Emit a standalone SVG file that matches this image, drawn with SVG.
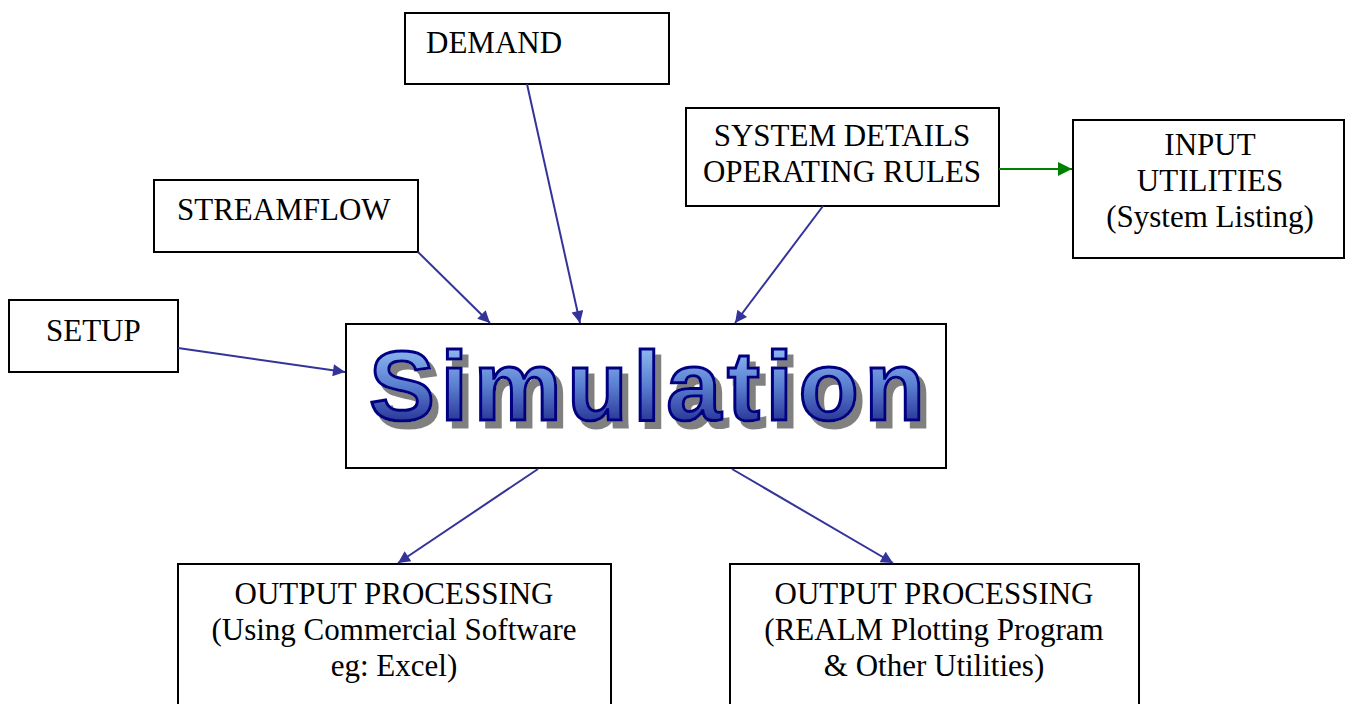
<svg xmlns="http://www.w3.org/2000/svg" width="1349" height="704" viewBox="0 0 1349 704">
<defs>
<style>
.box{fill:#fff;stroke:#000;stroke-width:2}
.t{font-family:"Liberation Serif","Times New Roman",serif;font-size:31px;fill:#000}
.c{text-anchor:middle}
.blue{stroke:#333399;stroke-width:2;fill:none;marker-end:url(#ab)}
.green{stroke:#008000;stroke-width:2;fill:none;marker-end:url(#ag)}
.sim{font-family:"Liberation Sans",Arial,sans-serif;font-weight:bold;font-size:99px;fill:url(#sg);stroke:#000080;stroke-width:3;filter:url(#sh)}
</style>
<marker id="ab" viewBox="0 0 10 10" refX="10" refY="5" markerWidth="16" markerHeight="12" markerUnits="userSpaceOnUse" orient="auto"><path d="M0,0 L10,5 L0,10 z" fill="#333399"/></marker>
<marker id="ag" viewBox="0 0 10 10" refX="10" refY="5" markerWidth="14" markerHeight="14" markerUnits="userSpaceOnUse" orient="auto"><path d="M0,0 L10,5 L0,10 z" fill="#008000"/></marker>
<linearGradient id="sg" x1="0" y1="0" x2="0" y2="1">
<stop offset="0" stop-color="#a6d4ff"/>
<stop offset="0.5" stop-color="#5a7fd0"/>
<stop offset="1" stop-color="#10107a"/>
</linearGradient>
<filter id="sh" x="-5%" y="-20%" width="115%" height="150%">
<feOffset in="SourceAlpha" dx="6" dy="7" result="o"/>
<feFlood flood-color="#808080"/>
<feComposite in2="o" operator="in" result="s"/>
<feMerge><feMergeNode in="s"/><feMergeNode in="SourceGraphic"/></feMerge>
</filter>
</defs>
<g id="setup"><rect class="box" x="9" y="300" width="169" height="72"/><text class="t" x="46" y="341">SETUP</text></g>
<g id="streamflow"><rect class="box" x="154" y="180" width="264" height="72"/><text class="t" x="177" y="220">STREAMFLOW</text></g>
<g id="demand"><rect class="box" x="405" y="13" width="264" height="71"/><text class="t" x="426" y="53">DEMAND</text></g>
<g id="system"><rect class="box" x="686" y="108" width="313" height="98"/><text class="t c" x="842" y="146">SYSTEM DETAILS</text><text class="t c" x="842" y="182">OPERATING RULES</text></g>
<g id="input"><rect class="box" x="1073" y="120" width="271" height="138"/><text class="t c" x="1210" y="155">INPUT</text><text class="t c" x="1210" y="191">UTILITIES</text><text class="t c" x="1210" y="227">(System Listing)</text></g>
<g id="simulation"><rect class="box" x="346" y="324" width="600" height="144"/>
<text class="sim" x="369" y="420" textLength="556" lengthAdjust="spacing">Simulation</text>
</g>
<g id="out1"><rect class="box" x="178" y="564" width="433" height="150"/><text class="t c" x="394" y="604">OUTPUT PROCESSING</text><text class="t c" x="394" y="640">(Using Commercial Software</text><text class="t c" x="394" y="676">eg: Excel)</text></g>
<g id="out2"><rect class="box" x="730" y="564" width="409" height="150"/><text class="t c" x="934" y="604">OUTPUT PROCESSING</text><text class="t c" x="934" y="640">(REALM Plotting Program</text><text class="t c" x="934" y="676">&amp; Other Utilities)</text></g>
<g id="connectors">
<line class="blue" x1="178" y1="348" x2="345" y2="372"/>
<line class="blue" x1="418" y1="252" x2="490" y2="323"/>
<line class="blue" x1="527" y1="84" x2="580" y2="323"/>
<line class="blue" x1="823" y1="206" x2="735" y2="323"/>
<line class="green" x1="999" y1="169" x2="1072" y2="169"/>
<line class="blue" x1="538" y1="469" x2="398" y2="563"/>
<line class="blue" x1="732" y1="469" x2="893" y2="563"/>
</g>
</svg>
